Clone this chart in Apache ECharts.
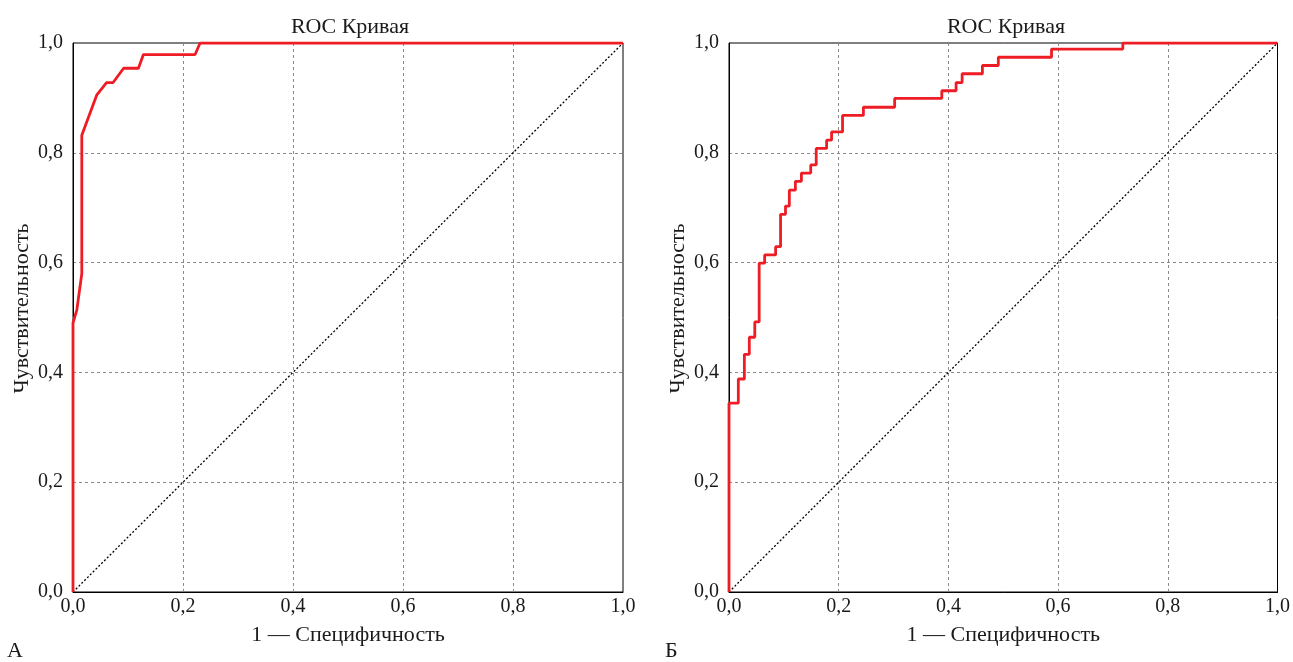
<!DOCTYPE html>
<html><head><meta charset="utf-8">
<script src="https://cdn.jsdelivr.net/npm/echarts@6/dist/echarts.min.js"></script>
<style>html,body{margin:0;padding:0;background:#fff}#c{width:1293px;height:662px}</style>
</head><body><div id="c"></div>
<script>
const titleText = 'ROC Кривая';
const xName = '1 — Специфичность';
const yName = 'Чувствительность';
const panelLabels = ['А', 'Б'];
const ticks = [0, 0.2, 0.4, 0.6, 0.8, 1.0];
const diagonal = [[0, 0], [1, 1]];
// Panel A: ROC curve points (x = 1 - specificity, y = sensitivity)
const rocA = [[0,0],[0,0.49],[0.007,0.514],[0.016,0.58],[0.016,0.832],[0.043,0.905],[0.061,0.928],[0.073,0.928],[0.092,0.954],[0.119,0.954],[0.128,0.979],[0.222,0.979],[0.231,1],[1,1]];
// Panel B: step ROC curve, points at the top of each vertical rise
const rocB = [[0,0],[0,0.344],[0.017,0.388],[0.028,0.433],[0.037,0.464],[0.047,0.492],[0.055,0.599],[0.065,0.614],[0.085,0.629],[0.094,0.688],[0.103,0.703],[0.110,0.732],[0.121,0.748],[0.132,0.763],[0.149,0.778],[0.159,0.808],[0.178,0.823],[0.187,0.838],[0.207,0.868],[0.245,0.883],[0.302,0.899],[0.388,0.913],[0.414,0.928],[0.425,0.944],[0.462,0.959],[0.491,0.974],[0.588,0.989],[0.718,1.0],[1,1]];

const font = 'Liberation Serif';
const txt = '#1a1a1a';
const fmt = v => v.toFixed(1).replace('.', ',');
const grids = [
  {left: 73, top: 43, width: 550, height: 549},
  {left: 729, top: 43, width: 550, height: 549}
];
const split = {show:true,showMinLine:false,showMaxLine:false,lineStyle:{color:'#8a8a8a',type:[3,3],width:1}};
function xAx(i){return {gridIndex:i,type:'value',min:ticks[0],max:ticks[ticks.length-1],interval:0.2,
  name:xName,nameLocation:'middle',nameGap:32,nameTextStyle:{fontFamily:font,fontSize:22,color:txt},
  axisLine:{show:true,lineStyle:{color:'#000',width:1}},axisTick:{show:false},
  axisLabel:{formatter:fmt,fontFamily:font,fontSize:20,color:txt,margin:5,showMinLabel:true,showMaxLabel:true},
  splitLine:split};}
function yAx(i){return {gridIndex:i,type:'value',min:ticks[0],max:ticks[ticks.length-1],interval:0.2,
  name:yName,nameLocation:'middle',nameGap:40,nameRotate:90,nameTextStyle:{fontFamily:font,fontSize:22,color:txt,padding:[0,0,0,18]},
  axisLine:{show:true,lineStyle:{color:'#000',width:1}},axisTick:{show:false},
  axisLabel:{formatter:fmt,fontFamily:font,fontSize:20,color:txt,margin:10,showMinLabel:true,showMaxLabel:true},
  splitLine:split};}

const chart = echarts.init(document.getElementById('c'), null, {renderer:'canvas'});
chart.setOption({
  animation:false,
  backgroundColor:'#fff',
  title: grids.map(g => ({text:titleText,left:g.left+g.width/2-3,top:11,textAlign:'center',
    textStyle:{fontFamily:font,fontSize:22,fontWeight:'normal',color:txt}})),
  grid: grids.map(g => Object.assign({show:true,borderColor:'#000',borderWidth:1,backgroundColor:'transparent'}, g)),
  xAxis:[xAx(0),xAx(1)],
  yAxis:[yAx(0),yAx(1)],
  graphic:[
    {type:'text',left:7,top:640,style:{text:panelLabels[0],font:'22px "Liberation Serif"',fill:txt}},
    {type:'text',left:665,top:640,style:{text:panelLabels[1],font:'22px "Liberation Serif"',fill:txt}}
  ],
  series:[
    {type:'line',xAxisIndex:0,yAxisIndex:0,data:diagonal,symbol:'none',lineStyle:{color:'#000',width:1.3,type:[2,2]},z:2},
    {type:'line',xAxisIndex:0,yAxisIndex:0,data:rocA,symbol:'none',lineStyle:{color:'#ee1c25',width:2.8},z:3},
    {type:'line',xAxisIndex:1,yAxisIndex:1,data:diagonal,symbol:'none',lineStyle:{color:'#000',width:1.3,type:[2,2]},z:2},
    {type:'line',xAxisIndex:1,yAxisIndex:1,data:rocB,step:'end',symbol:'none',lineStyle:{color:'#ee1c25',width:2.8},z:3}
  ]
});
</script></body></html>
